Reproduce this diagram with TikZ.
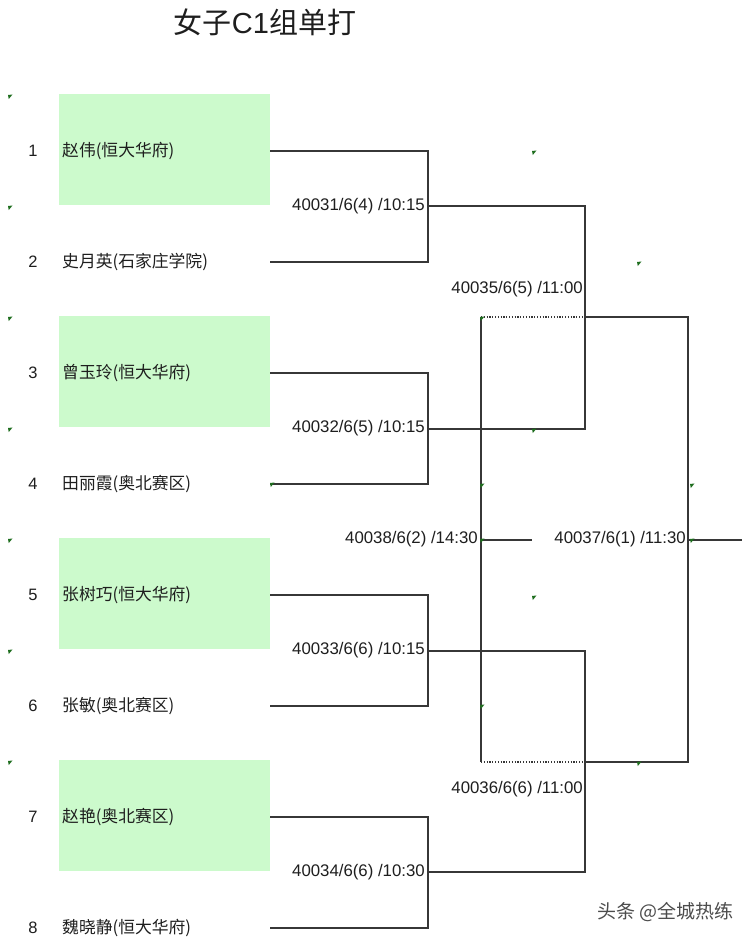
\documentclass[tikz,border=0pt]{standalone}
\usepackage{fontspec}
\setmainfont{Liberation Sans}
\newfontfamily\cjk{Noto Sans CJK SC}
\definecolor{linegray}{RGB}{55,55,55}
\definecolor{boxgreen}{RGB}{204,250,204}
\definecolor{markgreen}{RGB}{30,110,30}
\definecolor{txt}{RGB}{30,30,30}
\begin{document}
\begin{tikzpicture}[x=1pt,y=-1pt,
  wire/.style={draw=linegray,line width=1.3pt},
  dotwire/.style={draw=linegray,line width=1.3pt,dash pattern=on 1.2pt off 1.6pt},
  seed/.style={anchor=center,inner sep=0pt,font=\fontsize{16.5}{18}\selectfont,text=txt},
  player/.style={anchor=west,inner sep=0pt,font=\cjk\fontsize{16.8}{18}\selectfont,text=txt},
  matchlbl/.style={anchor=east,inner sep=0pt,font=\fontsize{16.8}{18}\selectfont,text=txt},
  greenbox/.style={fill=boxgreen,draw=none},
  gmark/.style={fill=markgreen,draw=none}]
\useasboundingbox (0,0) rectangle (750,945);
\fill[white] (0,0) rectangle (750,945);

% title
\node[inner sep=0pt,text=txt,font=\cjk\fontsize{29}{32}\selectfont] (title) at (265,22) {女子{\fontspec{Liberation Sans}C1}组单打};

% green boxes
\foreach \i/\y in {1/151,3/373,5/595,7/817}
  \fill[greenbox] (59,\y-57) rectangle (270,\y+54);

% seeds and players
\foreach \i/\y/\nm in {1/151/赵伟(恒大华府),2/262/史月英(石家庄学院),3/373/曾玉玲(恒大华府),4/484/田丽霞(奥北赛区),5/595/张树巧(恒大华府),6/706/张敏(奥北赛区),7/817/赵艳(奥北赛区),8/928/魏晓静(恒大华府)}{
  \node[seed] (s\i) at (33,\y) {\i};
  \node[player] (n\i) at (62,\y) {\nm};
  \coordinate (p\i) at (270,\y);
  \coordinate (j\i) at (428,\y);
}

% round 1 coordinates
\coordinate (m1) at (428,206);
\coordinate (m2) at (428,429);
\coordinate (m3) at (428,651);
\coordinate (m4) at (428,872);
\coordinate (r1) at (585,206);
\coordinate (r2) at (585,429);
\coordinate (r3) at (585,651);
\coordinate (r4) at (585,872);
% semis
\coordinate (sa) at (585,317);
\coordinate (sar) at (688,317);
\coordinate (sal) at (481,317);
\coordinate (sb) at (585,762);
\coordinate (sbr) at (688,762);
\coordinate (sbl) at (481,762);
% final and third place
\coordinate (f) at (688,540);
\coordinate (fe) at (742,540);
\coordinate (t) at (481,540);
\coordinate (te) at (532,540);

% round 1 brackets
\draw[wire] (p1) -- (j1) -- (j2) -- (p2);
\draw[wire] (p3) -- (j3) -- (j4) -- (p4);
\draw[wire] (p5) -- (j5) -- (j6) -- (p6);
\draw[wire] (p7) -- (j7) -- (j8) -- (p8);
\draw[wire] (m1) -- (r1) -- (r2) -- (m2);
\draw[wire] (m3) -- (r3) -- (r4) -- (m4);
% semis
\draw[wire] (sa) -- (sar) -- (sbr) -- (sb);
\draw[dotwire] (sal) -- (sa);
\draw[dotwire] (sbl) -- (sb);
\draw[wire] (sal) -- (sbl);
\draw[wire] (f) -- (fe);
\draw[wire] (t) -- (te);

% match labels
\node[matchlbl] (l1) at (425,206) {40031/6(4) /10:15};
\node[matchlbl] (l2) at (425,428) {40032/6(5) /10:15};
\node[matchlbl] (l3) at (425,650) {40033/6(6) /10:15};
\node[matchlbl] (l4) at (425,872) {40034/6(6) /10:30};
\node[matchlbl] (l5) at (583,289) {40035/6(5) /11:00};
\node[matchlbl] (l6) at (583,789) {40036/6(6) /11:00};
\node[matchlbl] (l7) at (686,539) {40037/6(1) /11:30};
\node[matchlbl] (l8) at (478,539) {40038/6(2) /14:30};

% green marks
\foreach \x/\y in {8/95,8/206,8/317,8/428,8/539,8/650,8/761,
  532/151,637/262,480/317,532/429,270/483,480/484,690/484,480/539,690/539,532/596,480/705,637/762}
  \fill[gmark] (\x,\y) -- (\x+4.5,\y-0.5) -- (\x+0.8,\y+4) -- cycle;

% watermark
\node[inner sep=0pt,anchor=west,text=black!70,font=\cjk\fontsize{19}{22}\selectfont] (wm) at (597,912) {头条 @全城热练};
\end{tikzpicture}
\end{document}
